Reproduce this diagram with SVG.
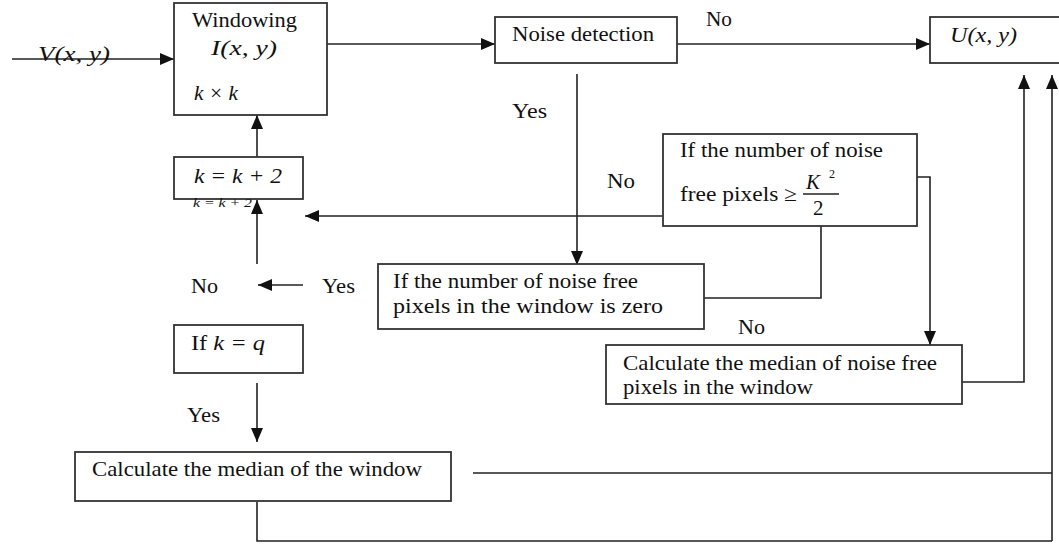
<svg xmlns="http://www.w3.org/2000/svg" width="1059" height="544" viewBox="0 0 1059 544">
<defs>
<marker id="ah" markerUnits="userSpaceOnUse" markerWidth="14" markerHeight="12" viewBox="0 0 14 12" refX="14" refY="6" orient="auto">
<path d="M0,0 L14,6 L0,12 Z" fill="#111"/>
</marker>
</defs>
<style>
rect{fill:#fff;stroke:#333;stroke-width:1.8}
.c{fill:none;stroke:#222;stroke-width:1.6}
.a{marker-end:url(#ah)}
text{font-family:"Liberation Serif","Times New Roman",serif;font-size:21px;fill:#111}
.i{font-style:italic}
</style>
<rect width="1059" height="544" style="fill:#fff;stroke:none"/>
<g id="connectors">
<line class="c a" x1="12" y1="59" x2="174" y2="59"/>
<line class="c a" x1="327" y1="44" x2="495" y2="44"/>
<line class="c a" x1="677" y1="44" x2="930" y2="44"/>
<line class="c a" x1="577" y1="74" x2="577" y2="265"/>
<line class="c a" x1="257" y1="157" x2="257" y2="115"/>
<line class="c a" x1="257" y1="264" x2="257" y2="200"/>
<line class="c a" x1="663" y1="216" x2="305" y2="216"/>
<line class="c a" x1="303" y1="285" x2="258" y2="285"/>
<polyline class="c" points="821,226 821,298 704,298"/>
<polyline class="c a" points="917,177 930,177 930,345"/>
<polyline class="c a" points="962,382 1024,382 1024,75"/>
<line class="c" x1="473" y1="473" x2="1052" y2="473"/>
<line class="c a" x1="1052" y1="541" x2="1052" y2="75"/>
<polyline class="c" points="257,502 257,541 1052,541"/>
<line class="c a" x1="257" y1="383" x2="257" y2="442"/>
</g>
<g id="input-label">
<text class="i" x="38" y="61" textLength="72" lengthAdjust="spacingAndGlyphs">V(x, y)</text>
</g>
<g id="windowing">
<rect x="174" y="3" width="153" height="112"/>
<text x="192" y="27" textLength="105" lengthAdjust="spacingAndGlyphs">Windowing</text>
<text class="i" x="211" y="55" textLength="66" lengthAdjust="spacingAndGlyphs">I(x, y)</text>
<text class="i" x="194" y="100" textLength="44" lengthAdjust="spacingAndGlyphs">k × k</text>
</g>
<g id="noise-detection">
<rect x="495" y="17" width="182" height="46"/>
<text x="512" y="41" textLength="142" lengthAdjust="spacingAndGlyphs">Noise detection</text>
</g>
<g id="output">
<rect x="930" y="17" width="140" height="46"/>
<text class="i" x="950" y="42" textLength="67" lengthAdjust="spacingAndGlyphs">U(x, y)</text>
</g>
<g id="k-increment">
<rect x="174" y="157" width="129" height="42"/>
<text class="i" x="194" y="183" textLength="88" lengthAdjust="spacingAndGlyphs">k = k + 2</text>
<text class="i" x="193" y="207" style="font-size:12px" textLength="59" lengthAdjust="spacingAndGlyphs">k = k + 2</text>
</g>
<g id="half-check">
<rect x="663" y="134" width="254" height="92"/>
<text x="680" y="157" textLength="203" lengthAdjust="spacingAndGlyphs">If the number of noise</text>
<text x="680" y="201" textLength="117" lengthAdjust="spacingAndGlyphs">free pixels ≥</text>
<text class="i" x="806" y="189">K</text>
<text x="829" y="178" style="font-size:12px">2</text>
<line x1="803" y1="194" x2="839" y2="194" stroke="#222" stroke-width="1.3"/>
<text x="813" y="215">2</text>
</g>
<g id="zero-check">
<rect x="378" y="264" width="326" height="65"/>
<text x="393" y="288" textLength="245" lengthAdjust="spacingAndGlyphs">If the number of noise free</text>
<text x="393" y="313" textLength="270" lengthAdjust="spacingAndGlyphs">pixels in the window is zero</text>
</g>
<g id="kq-check">
<rect x="174" y="325" width="129" height="48"/>
<text x="191" y="350" textLength="74" lengthAdjust="spacingAndGlyphs">If <tspan class="i">k = q</tspan></text>
</g>
<g id="median-free">
<rect x="606" y="345" width="356" height="59"/>
<text x="623" y="370" textLength="314" lengthAdjust="spacingAndGlyphs">Calculate the median of noise free</text>
<text x="623" y="394" textLength="190" lengthAdjust="spacingAndGlyphs">pixels in the window</text>
</g>
<g id="median-window">
<rect x="75" y="452" width="376" height="49"/>
<text x="92" y="476" textLength="330" lengthAdjust="spacingAndGlyphs">Calculate the median of the window</text>
</g>
<g id="labels">
<text x="706" y="26" textLength="26" lengthAdjust="spacingAndGlyphs">No</text>
<text x="512" y="118" textLength="35" lengthAdjust="spacingAndGlyphs">Yes</text>
<text x="607" y="188" textLength="28" lengthAdjust="spacingAndGlyphs">No</text>
<text x="191" y="293" textLength="27" lengthAdjust="spacingAndGlyphs">No</text>
<text x="322" y="293" textLength="33" lengthAdjust="spacingAndGlyphs">Yes</text>
<text x="738" y="334" textLength="27" lengthAdjust="spacingAndGlyphs">No</text>
<text x="187" y="422" textLength="33" lengthAdjust="spacingAndGlyphs">Yes</text>
</g>
</svg>
